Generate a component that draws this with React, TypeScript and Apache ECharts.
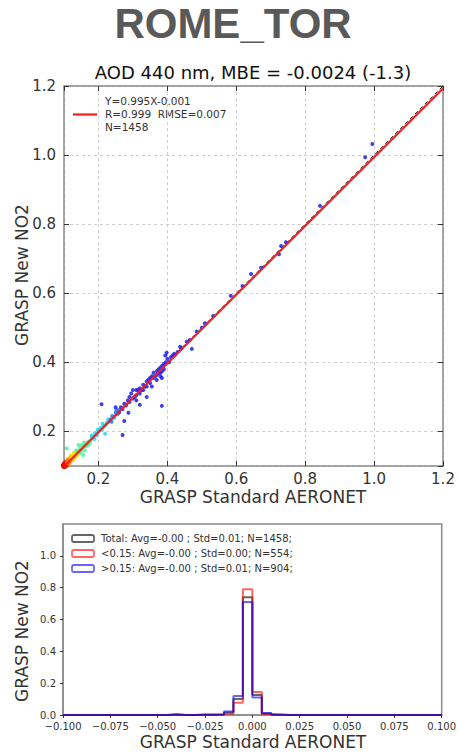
import React, { useEffect, useRef } from "react";
import * as echarts from "echarts";

// ---------- Scatter data (GRASP Standard AERONET vs GRASP New NO2) ----------
const pointsDarkRed: number[][] = [
  [0.101, 0.1], [0.1, 0.102], [0.102, 0.101], [0.103, 0.104],
];
const pointsRed: number[][] = [
  [0.1, 0.1], [0.102, 0.103], [0.104, 0.102], [0.105, 0.106], [0.107, 0.105],
  [0.108, 0.11], [0.103, 0.107], [0.106, 0.103], [0.109, 0.107], [0.111, 0.112],
];
const pointsOrange: number[][] = [
  [0.11, 0.11], [0.115, 0.112], [0.112, 0.118], [0.12, 0.118], [0.118, 0.122],
  [0.125, 0.12], [0.114, 0.108], [0.122, 0.126], [0.117, 0.115],
];
const pointsYellow: number[][] = [
  [0.125, 0.125], [0.13, 0.13], [0.135, 0.13], [0.13, 0.137], [0.14, 0.135],
  [0.12, 0.128], [0.128, 0.122], [0.138, 0.142],
];
const pointsGreen: number[][] = [
  [0.14, 0.14], [0.145, 0.15], [0.15, 0.145], [0.155, 0.16], [0.16, 0.155],
  [0.165, 0.165], [0.17, 0.17], [0.175, 0.172], [0.18, 0.18], [0.142, 0.161],
  [0.156, 0.132], [0.108, 0.151], [0.16, 0.145], [0.15, 0.16], [0.17, 0.16],
  [0.148, 0.138], [0.165, 0.158], [0.158, 0.168], [0.175, 0.165], [0.135, 0.145],
];
const pointsCyan: number[][] = [
  [0.185, 0.185], [0.19, 0.195], [0.195, 0.19], [0.2, 0.2], [0.205, 0.21],
  [0.21, 0.205], [0.215, 0.215], [0.22, 0.218], [0.225, 0.225], [0.23, 0.228],
  [0.219, 0.193], [0.188, 0.178], [0.18, 0.188], [0.198, 0.205], [0.212, 0.222],
  [0.228, 0.235],
];
const pointsLightBlue: number[][] = [
  [0.235, 0.235], [0.24, 0.245], [0.245, 0.24], [0.25, 0.255], [0.255, 0.25],
  [0.26, 0.262], [0.238, 0.228], [0.252, 0.262],
];
const pointsBlue: number[][] = [
  [0.25, 0.27], [0.26, 0.255], [0.265, 0.27], [0.27, 0.265], [0.275, 0.28],
  [0.28, 0.275], [0.285, 0.29], [0.29, 0.285], [0.29, 0.3], [0.295, 0.31],
  [0.3, 0.32], [0.3, 0.295], [0.305, 0.3], [0.31, 0.32], [0.31, 0.305],
  [0.315, 0.32], [0.32, 0.31], [0.32, 0.325], [0.325, 0.32], [0.33, 0.335],
  [0.33, 0.32], [0.335, 0.33], [0.34, 0.345], [0.34, 0.33], [0.345, 0.35],
  [0.35, 0.34], [0.35, 0.355], [0.355, 0.36], [0.36, 0.355], [0.36, 0.37],
  [0.365, 0.36], [0.37, 0.375], [0.37, 0.365], [0.375, 0.38], [0.375, 0.37],
  [0.38, 0.37], [0.38, 0.385], [0.385, 0.375], [0.385, 0.39], [0.39, 0.38],
  [0.39, 0.395], [0.395, 0.4], [0.4, 0.41], [0.405, 0.4], [0.41, 0.415],
  [0.415, 0.42], [0.42, 0.425], [0.43, 0.43], [0.44, 0.44],
  [0.209, 0.279], [0.27, 0.19], [0.275, 0.23], [0.384, 0.274], [0.471, 0.439],
  [0.398, 0.428], [0.394, 0.42], [0.34, 0.3], [0.32, 0.277], [0.287, 0.254],
  [0.369, 0.349], [0.355, 0.33], [0.384, 0.355], [0.38, 0.36], [0.31, 0.29],
  [0.995, 1.032], [0.974, 0.994], [0.843, 0.853], [0.73, 0.737], [0.724, 0.713],
  [0.744, 0.748], [0.643, 0.656], [0.672, 0.674], [0.618, 0.621], [0.584, 0.593],
  [0.533, 0.534], [0.509, 0.513], [0.485, 0.489], [0.456, 0.46], [0.437, 0.445],
  [0.422, 0.421], [0.465, 0.465], [0.5, 0.5],
];

// Regression line from the legend: Y = 0.995X - 0.001
const fitSlope = 0.995;
const fitIntercept = -0.001;
const fitRangeX = [0.1, 1.2];

const scatterTickLabels = ["0.2", "0.4", "0.6", "0.8", "1.0", "1.2"];

// ---------- Histogram data ----------
const histEdges = [
  -0.05, -0.045, -0.04, -0.035, -0.03, -0.025, -0.02, -0.015, -0.01, -0.005,
  0.0, 0.005, 0.01, 0.015, 0.02,
];
const histTotal = [0, 0.003, 0, 0, 0.002, 0.002, 0.003, 0.016, 0.1, 0.74, 0.125, 0.009, 0.002, 0];
const histLow = [0, 0, 0, 0, 0, 0, 0.002, 0.008, 0.077, 0.79, 0.145, 0.004, 0, 0];
const histHigh = [0, 0.004, 0, 0, 0.003, 0.003, 0.004, 0.022, 0.12, 0.71, 0.11, 0.012, 0.003, 0];

const legendScatter = ["Y=0.995X-0.001", "R=0.999  RMSE=0.007", "N=1458"];
const legendHist = [
  "Total: Avg=-0.00 ; Std=0.01; N=1458;",
  "<0.15: Avg=-0.00 ; Std=0.00; N=554;",
  ">0.15: Avg=-0.00 ; Std=0.01; N=904;",
];

const FONT = "DejaVu Sans";

function stepData(heights: number[]): number[][] {
  const d: number[][] = [[-0.1, 0]];
  heights.forEach((h, i) => d.push([histEdges[i], h]));
  d.push([histEdges[histEdges.length - 1], 0]);
  d.push([0.1, 0]);
  return d;
}

export default function App() {
  const ref = useRef<HTMLDivElement>(null);
  useEffect(() => {
    document.body.style.margin = "0";
    const chart = echarts.init(ref.current!, null, { renderer: "svg" });

    const frameColor = "#8a8a8a";
    const tickColor = "#333";
    const labelColor = "#333";

    const scatterGroups = [
      { data: pointsDarkRed, color: "#9a0000", size: 6 },
      { data: pointsRed, color: "#ee1100", size: 6 },
      { data: pointsOrange, color: "#ff8800", size: 5 },
      { data: pointsYellow, color: "#e8e000", size: 5 },
      { data: pointsGreen, color: "#55f0a0", size: 4 },
      { data: pointsCyan, color: "#20d8f0", size: 4 },
      { data: pointsLightBlue, color: "#1080ff", size: 4 },
      { data: pointsBlue, color: "#2020e8", size: 4 },
    ];

    const fitLine = fitRangeX.map((x) => [x, fitSlope * x + fitIntercept]);
    const oneToOne = fitRangeX.map((x) => [x, x]);

    const hideAll = {
      axisLabel: { show: false },
      splitLine: { show: false },
    };

    const histColors = [
      "rgba(0,0,0,0.6)",
      "rgba(255,0,0,0.6)",
      "rgba(0,0,255,0.6)",
    ];

    chart.setOption({
      animation: false,
      backgroundColor: "#fff",
      grid: [
        { left: 64, top: 86, width: 379, height: 380 },
        {
          left: 63, top: 524, width: 380, height: 191,
          show: true, borderColor: frameColor, borderWidth: 1.5,
        },
      ],
      xAxis: [
        {
          type: "value", gridIndex: 0, min: 0.1, max: 1.2, splitNumber: 5,
          axisLine: { show: true, onZero: false, lineStyle: { color: frameColor, width: 1.5 } },
          axisTick: { inside: true, length: 5, lineStyle: { color: tickColor } },
          axisLabel: {
            showMinLabel: false, fontSize: 15, color: labelColor, margin: 5, fontFamily: FONT,
            formatter: (v: number) => {
              const s = v.toFixed(1);
              return scatterTickLabels.includes(s) ? s : "";
            },
          },
          splitLine: { show: true, lineStyle: { type: [3, 3], color: "#cfcfcf" } },
        },
        {
          type: "value", gridIndex: 0, min: 0.1, max: 1.2, splitNumber: 5, position: "top",
          axisLine: { show: true, onZero: false, lineStyle: { color: frameColor, width: 1.5 } },
          axisTick: { inside: true, length: 5, lineStyle: { color: tickColor } },
          ...hideAll,
        },
        {
          type: "value", gridIndex: 1, min: -0.1, max: 0.1, interval: 0.025,
          axisLine: { show: true, onZero: false, lineStyle: { color: frameColor, width: 1.5 } },
          axisTick: { show: true, length: 3, lineStyle: { color: tickColor } },
          axisLabel: {
            fontSize: 10, color: labelColor, margin: 6, fontFamily: FONT,
            formatter: (v: number) =>
              Math.abs(v) < 1e-9 ? "0.000" : (v < 0 ? "\u2212" : "") + Math.abs(v).toFixed(3),
          },
          splitLine: { show: false },
        },
      ],
      yAxis: [
        {
          type: "value", gridIndex: 0, min: 0.1, max: 1.2, splitNumber: 5,
          axisLine: { show: true, onZero: false, lineStyle: { color: frameColor, width: 1.5 } },
          axisTick: { inside: true, length: 5, lineStyle: { color: tickColor } },
          axisLabel: {
            showMinLabel: false, fontSize: 15, color: labelColor, margin: 8, fontFamily: FONT,
            formatter: (v: number) => {
              const s = v.toFixed(1);
              return scatterTickLabels.includes(s) ? s : "";
            },
          },
          splitLine: { show: true, lineStyle: { type: [3, 3], color: "#cfcfcf" } },
        },
        {
          type: "value", gridIndex: 0, min: 0.1, max: 1.2, splitNumber: 5, position: "right",
          axisLine: { show: true, onZero: false, lineStyle: { color: frameColor, width: 1.5 } },
          axisTick: { inside: true, length: 5, lineStyle: { color: tickColor } },
          ...hideAll,
        },
        {
          type: "value", gridIndex: 1, min: 0, max: 1.2, interval: 0.2,
          axisLine: { show: true, onZero: false, lineStyle: { color: frameColor, width: 1.5 } },
          axisTick: { show: true, length: 3, lineStyle: { color: tickColor } },
          axisLabel: {
            showMaxLabel: false, fontSize: 10, color: labelColor, margin: 7, fontFamily: FONT,
            formatter: (v: number) => v.toFixed(1),
          },
          splitLine: { show: false },
        },
      ],
      series: [
        ...scatterGroups.map((g, i) => ({
          type: "scatter",
          xAxisIndex: 0,
          yAxisIndex: 0,
          data: g.data,
          symbol: "circle",
          symbolSize: g.size,
          itemStyle: { color: g.color, opacity: 0.85 },
          z: 2 + i,
        })),
        {
          type: "line", xAxisIndex: 0, yAxisIndex: 0, data: oneToOne,
          symbol: "none", lineStyle: { color: "#222", width: 1, type: [4, 3] }, z: 1,
        },
        {
          type: "line", xAxisIndex: 0, yAxisIndex: 0, data: fitLine,
          symbol: "none", lineStyle: { color: "#ff1a1a", width: 2.2 }, z: 20,
        },
        ...[histTotal, histLow, histHigh].map((h, i) => ({
          type: "line",
          xAxisIndex: 2,
          yAxisIndex: 2,
          data: stepData(h),
          step: "end",
          symbol: "none",
          lineStyle: { color: histColors[i], width: 2 },
          z: 5 + i,
        })),
      ],
      graphic: [
        {
          type: "text", x: 233, y: 23,
          style: {
            text: "ROME_TOR", font: "bold 42px 'Liberation Sans', Arial, sans-serif",
            fill: "#595959", textAlign: "center", textVerticalAlign: "middle",
          },
        },
        {
          type: "text", x: 253, y: 72,
          style: {
            text: "AOD 440 nm, MBE = -0.0024 (-1.3)", font: `18px '${FONT}'`,
            fill: "#111", textAlign: "center", textVerticalAlign: "middle",
          },
        },
        {
          type: "line", shape: { x1: 73, y1: 114.5, x2: 97, y2: 114.5 },
          style: { stroke: "#ff1a1a", lineWidth: 2.2 },
        },
        ...legendScatter.map((t, i) => ({
          type: "text", x: 105, y: 101 + i * 13,
          style: {
            text: t, font: `10.5px '${FONT}'`, fill: "#333",
            textAlign: "left", textVerticalAlign: "middle",
          },
        })),
        {
          type: "text", x: 253, y: 497,
          style: {
            text: "GRASP Standard AERONET", font: `17px '${FONT}'`, fill: "#333",
            textAlign: "center", textVerticalAlign: "middle",
          },
        },
        {
          type: "text", x: 22, y: 275, rotation: Math.PI / 2,
          style: {
            text: "GRASP New NO2", font: `17px '${FONT}'`, fill: "#333",
            textAlign: "center", textVerticalAlign: "middle",
          },
        },
        {
          type: "text", x: 253, y: 742,
          style: {
            text: "GRASP Standard AERONET", font: `17px '${FONT}'`, fill: "#333",
            textAlign: "center", textVerticalAlign: "middle",
          },
        },
        {
          type: "text", x: 22, y: 631, rotation: Math.PI / 2,
          style: {
            text: "GRASP New NO2", font: `17px '${FONT}'`, fill: "#333",
            textAlign: "center", textVerticalAlign: "middle",
          },
        },
        ...legendHist.map((t, i) => ({
          type: "group",
          children: [
            {
              type: "rect",
              shape: { x: 72, y: 535 + i * 15, width: 22, height: 7, r: 2 },
              style: { fill: "none", stroke: histColors[i], lineWidth: 1.8 },
            },
            {
              type: "text", x: 101, y: 538.5 + i * 15,
              style: {
                text: t, font: `10px '${FONT}'`, fill: "#333",
                textAlign: "left", textVerticalAlign: "middle",
              },
            },
          ],
        })),
      ],
    });
    return () => chart.dispose();
  }, []);
  return <div ref={ref} style={{ width: 459, height: 753 }} />;
}
